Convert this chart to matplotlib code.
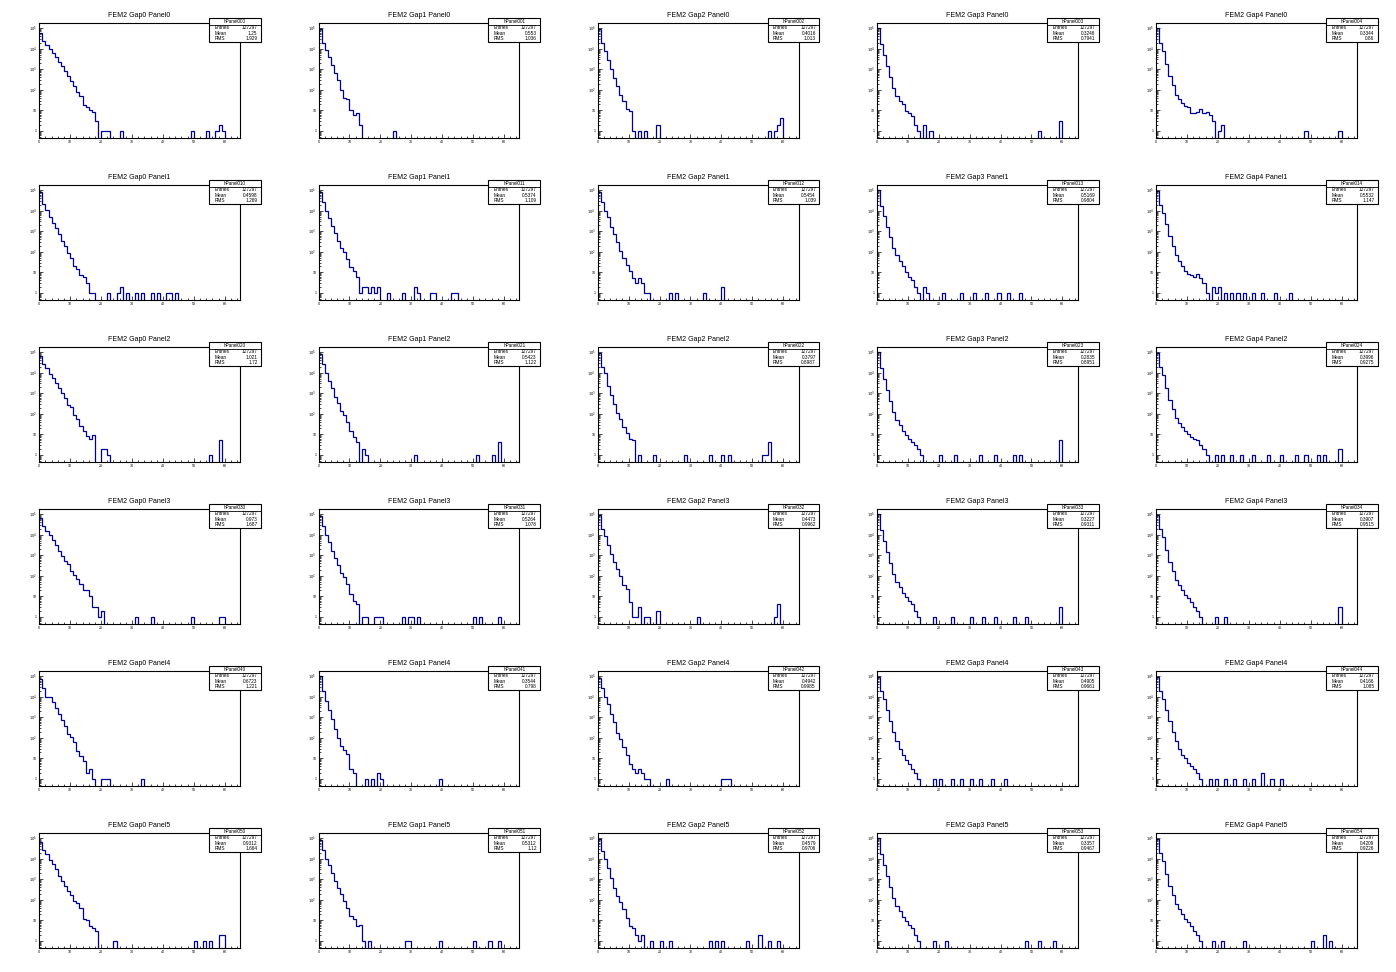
import numpy as np
import matplotlib.pyplot as plt
from matplotlib.patches import Rectangle
from matplotlib.lines import Line2D
from matplotlib.ticker import FixedLocator, NullFormatter

plt.rcParams['font.family'] = ['Liberation Sans', 'DejaVu Sans']

ENTRIES = 127297
N_BINS = 65
GAPS = [0, 1, 2, 3, 4]
PANELS = [0, 1, 2, 3, 4, 5]

# falling part of each histogram (bins 0, 1, 2, ...), one list per gap
head_p0 = [
    [62000, 24500, 15600, 9600, 6200, 3800, 2250, 1450, 860, 475, 280, 150, 74, 51, 19, 15, 10, 8, 3],
    [92000, 20000, 8700, 3800, 1700, 670, 300, 100, 41, 34, 10, 6, 7, 2],
    [95800, 19000, 8000, 2800, 1040, 380, 145, 57, 27, 12, 9, 1, 0, 1, 0, 1],
    [103000, 17000, 5100, 1500, 410, 125, 51, 27, 21, 9, 7, 5, 2, 1, 0, 2, 0, 1],
    [98200, 19000, 7400, 1800, 490, 175, 53, 37, 23, 17, 15, 7, 7, 8, 11, 7, 8, 6, 3, 0, 1, 2],
]
tail_p0 = [
    {20: 1, 21: 1, 22: 1, 26: 1, 49: 1, 54: 1, 57: 1, 58: 2, 59: 1},
    {24: 1},
    {19: 2, 55: 1, 57: 1, 58: 2, 59: 4},
    {52: 1, 59: 3},
    {48: 1, 59: 1},
]
head_p1 = [
    [83500, 22000, 11200, 5100, 2600, 1420, 700, 340, 200, 88, 48, 20, 14, 7, 6, 3, 1, 1],
    [83500, 26000, 10000, 4400, 1900, 810, 340, 160, 95, 45, 18, 12, 6, 1, 2, 2, 1, 2, 1, 2],
    [84000, 26000, 9300, 5100, 1700, 720, 316, 110, 48, 23, 11, 5, 3, 5, 3, 1, 1],
    [101000, 17000, 5500, 1700, 500, 160, 70, 35, 20, 10, 6, 4, 2, 1],
    [96000, 20000, 8000, 2200, 600, 200, 70, 35, 20, 12, 8, 7, 6, 8, 5, 3, 1],
]
tail_p1 = [
    {22: 1, 25: 1, 26: 2, 28: 1, 31: 1, 33: 1, 36: 1, 38: 1, 41: 1, 42: 1, 44: 1},
    {22: 1, 27: 1, 31: 2, 32: 1, 36: 1, 37: 1, 43: 1, 44: 1},
    {23: 1, 25: 1, 34: 1, 40: 2},
    {15: 2, 16: 1, 21: 1, 27: 1, 31: 1, 35: 1, 39: 1, 42: 1, 46: 1},
    {18: 2, 19: 1, 20: 2, 22: 1, 24: 1, 26: 1, 28: 1, 31: 1, 34: 1, 38: 1, 43: 1},
]
head_p2 = [
    [63000, 26000, 16500, 8700, 5700, 3250, 1900, 1050, 560, 270, 220, 88, 56, 25, 14, 8, 6, 9, 0, 0, 2, 2, 1],
    [84000, 26000, 10000, 4100, 1900, 670, 340, 140, 91, 38, 14, 7, 4, 0, 2, 1],
    [94400, 20000, 9300, 2300, 810, 316, 110, 58, 23, 11, 6, 5, 0, 1],
    [103000, 17000, 5100, 1500, 410, 125, 51, 27, 15, 9, 6, 4, 3, 2, 1],
    [97000, 19000, 7400, 1800, 490, 175, 60, 35, 22, 15, 10, 7, 6, 5, 3, 2, 1],
]
tail_p2 = [
    {55: 1, 58: 5},
    {31: 1, 51: 1, 56: 1, 58: 4},
    {18: 1, 28: 1, 36: 1, 40: 1, 42: 1, 53: 1, 54: 1, 55: 4},
    {20: 1, 25: 1, 33: 1, 38: 1, 44: 1, 46: 1, 59: 5},
    {19: 1, 21: 1, 24: 1, 27: 1, 31: 1, 36: 1, 40: 1, 45: 1, 48: 1, 52: 1, 54: 1, 59: 2},
]
head_p3 = [
    [63900, 26000, 14700, 10000, 5700, 3000, 1700, 970, 500, 370, 180, 110, 70, 38, 21, 21, 10, 3, 3, 1, 2],
    [83800, 26000, 10000, 4400, 1700, 750, 340, 140, 91, 38, 13, 6, 4, 0, 1, 1],
    [93600, 20000, 8700, 3000, 1170, 460, 215, 95, 36, 23, 5, 1, 1, 3, 0, 1, 1],
    [103000, 17000, 5100, 1500, 410, 125, 51, 27, 15, 9, 6, 4, 2, 1],
    [97000, 19000, 7400, 1800, 490, 175, 60, 35, 20, 12, 8, 5, 3, 2, 1],
]
tail_p3 = [
    {31: 1, 36: 1, 49: 1, 58: 1, 59: 1},
    {18: 1, 19: 1, 20: 1, 27: 1, 29: 1, 30: 1, 32: 1, 50: 1, 52: 1, 58: 1},
    {19: 2, 32: 1, 57: 1, 58: 4},
    {18: 1, 24: 1, 30: 1, 34: 1, 38: 1, 44: 1, 48: 1, 59: 3},
    {19: 1, 22: 1, 59: 3},
]
head_p4 = [
    [70000, 26000, 10000, 10000, 5700, 2800, 1400, 700, 370, 150, 110, 65, 24, 13, 7, 2, 3, 1],
    [97500, 20000, 6300, 2200, 810, 260, 100, 40, 26, 16, 3, 2],
    [84600, 26000, 10000, 4400, 1400, 560, 180, 85, 36, 14, 5, 3, 2, 3, 2, 1, 1],
    [96000, 20000, 8000, 2300, 650, 200, 70, 30, 15, 8, 5, 3, 2, 1],
    [96000, 20000, 8000, 2300, 650, 200, 70, 30, 15, 10, 6, 4, 3, 2, 1],
]
tail_p4 = [
    {20: 1, 21: 1, 22: 1, 33: 1},
    {15: 1, 17: 1, 19: 2, 20: 1, 39: 1},
    {22: 1, 40: 1, 41: 1, 42: 1},
    {18: 1, 20: 1, 24: 1, 27: 1, 30: 1, 33: 1, 37: 1, 41: 1},
    {17: 1, 19: 1, 22: 1, 25: 1, 28: 1, 31: 1, 34: 2, 37: 1, 40: 1},
]
head_p5 = [
    [64300, 26000, 16500, 8700, 5300, 3000, 1500, 810, 460, 270, 180, 88, 70, 38, 12, 10, 5, 4, 3],
    [83000, 26000, 10000, 4700, 2100, 810, 380, 200, 85, 38, 17, 12, 5, 6, 1, 0, 1],
    [89500, 23000, 9300, 3600, 1170, 380, 150, 75, 36, 13, 5, 4, 2, 1, 2],
    [103000, 17000, 5100, 1500, 410, 125, 51, 27, 15, 9, 6, 4, 2, 1],
    [97000, 19000, 7400, 1800, 490, 175, 60, 35, 20, 12, 8, 5, 3, 2, 1],
]
tail_p5 = [
    {24: 1, 50: 1, 53: 1, 55: 1, 58: 2, 59: 2},
    {28: 1, 29: 1, 39: 1, 50: 1, 55: 1, 58: 1},
    {17: 1, 20: 1, 23: 1, 36: 1, 38: 1, 40: 1, 48: 1, 52: 2, 55: 1, 58: 1},
    {18: 1, 22: 1, 48: 1, 52: 1, 57: 1},
    {18: 1, 21: 1, 28: 1, 50: 1, 54: 2, 56: 1},
]
heads = [head_p0, head_p1, head_p2, head_p3, head_p4, head_p5]
tails = [tail_p0, tail_p1, tail_p2, tail_p3, tail_p4, tail_p5]

mean_vals = [
    ["1.25", "0.553", "0.4016", "0.3246", "0.3344"],
    ["0.4598", "0.5374", "0.5454", "0.5169", "0.5532"],
    ["1.021", "0.5423", "0.3797", "0.2835", "0.3996"],
    ["0.973", "0.5264", "0.4473", "0.3227", "0.3907"],
    ["0.6723", "0.3544", "0.4942", "0.4905", "0.4166"],
    ["0.9312", "0.5312", "0.4579", "0.3357", "0.4209"],
]
rms_vals = [
    ["1.929", "1.036", "1.013", "0.7941", "0.86"],
    ["1.269", "1.109", "1.039", "0.9804", "1.147"],
    ["1.72", "1.122", "0.8987", "0.8951", "0.9275"],
    ["1.687", "1.078", "0.9962", "0.9311", "0.9515"],
    ["1.221", "0.798", "0.9985", "0.9661", "1.085"],
    ["1.664", "1.12", "0.9706", "0.9467", "0.9226"],
]

LINE_COLOR = '#000099'
NCOL, NROW = 5, 6


def make_counts(head, tail):
    counts = np.zeros(N_BINS)
    counts[:len(head)] = head
    for b, n in tail.items():
        counts[b] = n
    return counts


fig = plt.figure(figsize=(13.96, 9.72), dpi=100)
edges = np.arange(N_BINS + 1)
y_major = [1, 10, 100, 1e3, 1e4, 1e5]
y_labels = ['1', '10', r'$10^{2}$', r'$10^{3}$', r'$10^{4}$', r'$10^{5}$']
y_minor = [m * 10.0 ** d for d in range(-1, 6) for m in range(2, 10)]

for r, panel in enumerate(PANELS):
    for c, gap in enumerate(GAPS):
        px, py = c / NCOL, (NROW - 1 - r) / NROW
        ax = fig.add_axes([px + 0.1408 / NCOL, py + 0.15 / NROW,
                           0.7195 / NCOL, 0.706 / NROW])
        counts = make_counts(heads[r][c], tails[r][c])
        shown = np.where(counts > 0, counts, 1e-3)
        ax.stairs(shown, edges, baseline=None, color=LINE_COLOR, lw=0.9)
        ax.set_yscale('log')
        ax.set_xlim(0, 65)
        ax.set_ylim(10 ** -0.335, 10 ** 5.24)

        ax.xaxis.set_major_locator(FixedLocator(np.arange(0, 61, 10)))
        ax.xaxis.set_minor_locator(FixedLocator(np.arange(0, 65, 2)))
        ax.yaxis.set_major_locator(FixedLocator(y_major))
        ax.yaxis.set_minor_locator(FixedLocator(y_minor))
        ax.yaxis.set_minor_formatter(NullFormatter())
        ax.set_yticklabels(y_labels)
        ax.tick_params(which='both', direction='in', top=False, right=False,
                       width=0.5, labelsize=2.6, pad=1.5)
        ax.tick_params(which='major', length=2.6)
        ax.tick_params(which='minor', length=1.4)
        for s in ax.spines.values():
            s.set_linewidth(0.8)

        # pad title
        fig.text(px + 0.5 / NCOL, py + 0.904 / NROW, f"FEM2 Gap{gap} Panel{panel}",
                 ha='center', va='center', fontsize=5)

        # stats box
        x0, x1 = px + 0.749 / NCOL, px + 0.935 / NCOL
        y0, y1 = py + 0.743 / NROW, py + 0.891 / NROW
        fig.add_artist(Rectangle((x0, y0), x1 - x0, y1 - y0, transform=fig.transFigure,
                                 facecolor='white', edgecolor='black', lw=0.8, zorder=5))
        ysep = py + (1 - 24.6 / 162) / NROW
        fig.add_artist(Line2D([x0, x1], [ysep, ysep], transform=fig.transFigure,
                              color='black', lw=0.6, zorder=6))
        fig.text((x0 + x1) / 2, py + (1 - 21.4 / 162) / NROW, f"hPanel0{panel}{gap}",
                 ha='center', va='center', fontsize=3.3, zorder=7)
        rows = [("Entries", str(ENTRIES)), ("Mean", mean_vals[r][c]), ("RMS", rms_vals[r][c])]
        for k, (lab, val) in enumerate(rows):
            yy = py + (1 - (27.8 + 5.3 * k) / 162) / NROW
            fig.text(x0 + 0.004, yy, lab, ha='left', va='center', fontsize=3.4, zorder=7)
            fig.text(x1 - 0.0025, yy, val, ha='right', va='center', fontsize=3.4, zorder=7)

fig.savefig('out.png', dpi=100)
